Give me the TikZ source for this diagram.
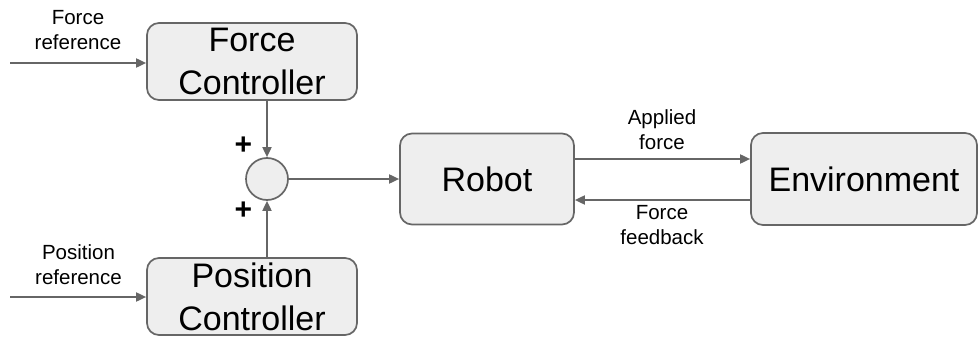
\documentclass[tikz,border=0pt]{standalone}
\usepackage{fontspec}
\setmainfont{Liberation Sans}
\usetikzlibrary{arrows.meta}
\definecolor{edge}{HTML}{666666}
\definecolor{boxfill}{HTML}{EEEEEE}

\begin{document}
\begin{tikzpicture}[x=1pt,y=-1pt,
  block/.style={draw=edge, fill=boxfill, line width=1.7pt, rounded corners=12pt,
    align=center, font=\fontsize{34}{43}\selectfont, inner sep=0pt},
  junction/.style={circle, draw=edge, fill=boxfill, line width=1.7pt,
    minimum size=42pt, inner sep=0pt},
  lbl/.style={align=center, font=\fontsize{20.5}{25}\selectfont, inner sep=0pt},
  flow/.style={draw=edge, line width=1.8pt, -{Triangle[length=10pt,width=9pt]}},
  sign/.style={font=\fontsize{30}{30}\selectfont\bfseries, inner sep=0pt}]
\useasboundingbox (0,0) rectangle (979,337);

% blocks
\node[block, minimum width=210pt, minimum height=77pt] (fc) at (252,61.5) {Force\\Controller};
\node[block, minimum width=210pt, minimum height=77pt] (pc) at (252,296.5) {Position\\Controller};
\node[junction] (sum) at (267,179) {};
\node[block, minimum width=174pt, minimum height=91pt] (robot) at (487,179) {Robot};
\node[block, minimum width=226pt, minimum height=92pt] (env) at (864,179) {Environment};

% reference inputs
\coordinate (fin) at (10,63);
\coordinate (pin) at (10,297);
\draw[flow] (fin) -- (fin -| fc.west);
\draw[flow] (pin) -- (pin -| pc.west);
\node[lbl] (fref) at (78,30) {Force\\reference};
\node[lbl] (pref) at (78.5,265) {Position\\reference};

% summing junction
\draw[flow] (sum |- fc.south) -- (sum.north);
\draw[flow] (sum |- pc.north) -- (sum.south);
\draw[flow] (sum.east) -- (sum.east -| robot.west);
\node[sign] (plusA) at (243.5,145.5) {+};
\node[sign] (plusB) at (243.5,210.5) {+};

% robot / environment interaction
\draw[flow] (robot.east |- 0,159) -- (env.west |- 0,159);
\draw[flow] (env.west |- 0,200) -- (robot.east |- 0,200);
\node[lbl] (applied) at (662,130) {Applied\\force};
\node[lbl] (feedback) at (662,225) {Force\\feedback};
\end{tikzpicture}
\end{document}
